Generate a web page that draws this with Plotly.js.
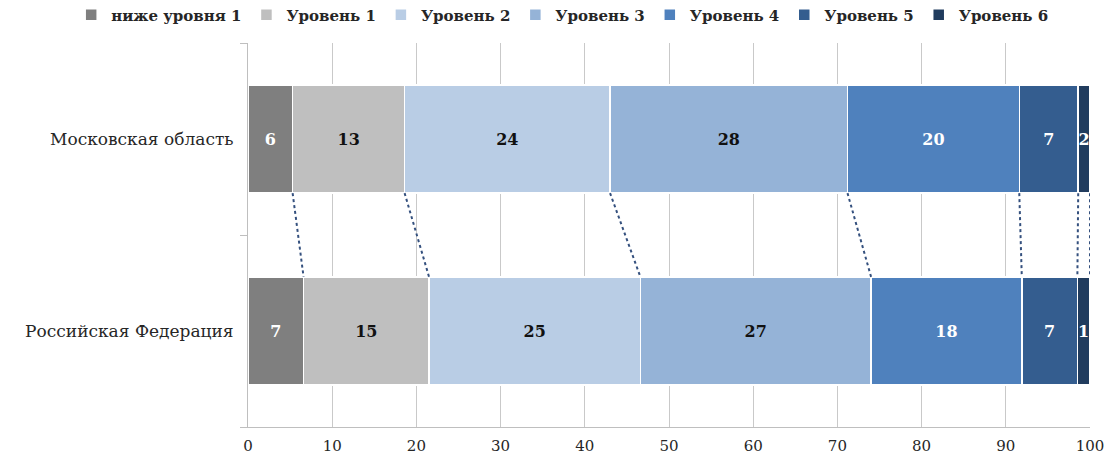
<!DOCTYPE html>
<html>
<head>
<meta charset="utf-8">
<script src="https://cdn.plot.ly/plotly-3.0.1.min.js"></script>
<style>html,body{margin:0;padding:0;background:#fff;}#chart{width:1112px;height:455px;}</style>
</head>
<body>
<div id="chart"></div>
<script>
// Categories (bottom to top in the plot)
const categories = ['Российская Федерация', 'Московская область'];
const seriesNames = ['ниже уровня 1', 'Уровень 1', 'Уровень 2', 'Уровень 3', 'Уровень 4', 'Уровень 5', 'Уровень 6'];
// Values (percent), per category
const valuesRF = [6.6, 14.9, 25.1, 27.4, 17.9, 6.6, 1.5];
const valuesMO = [5.3, 13.3, 24.4, 28.2, 20.4, 7.0, 1.4];
// Printed labels on the bars
const labelsRF = ['7', '15', '25', '27', '18', '7', '1'];
const labelsMO = ['6', '13', '24', '28', '20', '7', '2'];
const xTicks = [0, 10, 20, 30, 40, 50, 60, 70, 80, 90, 100];

const colors = ['#7f7f7f', '#bfbfbf', '#b9cde5', '#95b3d7', '#4f81bd', '#345d8f', '#213c5e'];
const textColors = ['#ffffff', '#111111', '#111111', '#111111', '#ffffff', '#ffffff', '#ffffff'];
const FONT = 'DejaVu Serif';
const BARW = 0.564;

const traces = seriesNames.map((name, i) => ({
  type: 'bar',
  orientation: 'h',
  name: name,
  y: categories,
  x: [valuesRF[i], valuesMO[i]],
  text: [labelsRF[i], labelsMO[i]],
  textposition: 'inside',
  insidetextanchor: 'middle',
  textangle: 0,
  constraintext: 'none',
  texttemplate: '%{text}',
  textfont: {family: FONT, size: 16, color: textColors[i], weight: 'bold'},
  width: BARW,
  marker: {color: colors[i], line: {color: '#ffffff', width: 1.5}},
  hoverinfo: 'name+x'
}));

// Dashed connectors between cumulative boundaries
const shapes = [];
let cumMO = 0, cumRF = 0;
for (let i = 0; i < seriesNames.length; i++) {
  cumMO += valuesMO[i];
  cumRF += valuesRF[i];
  shapes.push({
    type: 'line', xref: 'x', yref: 'y',
    x0: cumMO, y0: 1 - BARW / 2,
    x1: cumRF, y1: 0 + BARW / 2,
    line: {color: '#34507e', width: 2, dash: 'dot'},
    layer: 'above'
  });
}

const layout = {
  width: 1112, height: 455,
  margin: {l: 248, r: 22, t: 43, b: 28, autoexpand: false},
  paper_bgcolor: '#ffffff', plot_bgcolor: '#ffffff',
  font: {family: FONT},
  barmode: 'stack',
  bargap: 0,
  showlegend: true,
  legend: {
    orientation: 'h', traceorder: 'normal',
    x: -0.21, xanchor: 'left',
    y: 1.073, yanchor: 'middle',
    font: {family: FONT, size: 15, color: '#262626', weight: 'bold'},
    itemwidth: 30,
    tracegroupgap: 0
  },
  xaxis: {
    range: [0, 100],
    tickvals: xTicks,
    ticktext: xTicks.map(String),
    showgrid: true, gridcolor: '#c9c9c9', gridwidth: 1,
    zeroline: false,
    showline: true, linecolor: '#bfbfbf', linewidth: 1,
    ticks: '',
    ticklabelstandoff: 5,
    tickfont: {family: FONT, size: 15, color: '#262626'},
    fixedrange: true
  },
  yaxis: {
    type: 'category',
    categoryorder: 'array', categoryarray: categories,
    range: [-0.5, 1.5],
    showgrid: false, zeroline: false,
    showline: true, linecolor: '#bfbfbf', linewidth: 1,
    ticks: 'outside', tickson: 'boundaries', ticklen: 7, tickcolor: '#bfbfbf',
    ticklabelstandoff: 10,
    tickfont: {family: FONT, size: 17, color: '#262626'},
    fixedrange: true
  },
  shapes: shapes
};

Plotly.newPlot('chart', traces, layout, {displayModeBar: false, staticPlot: true});
</script>
</body>
</html>
